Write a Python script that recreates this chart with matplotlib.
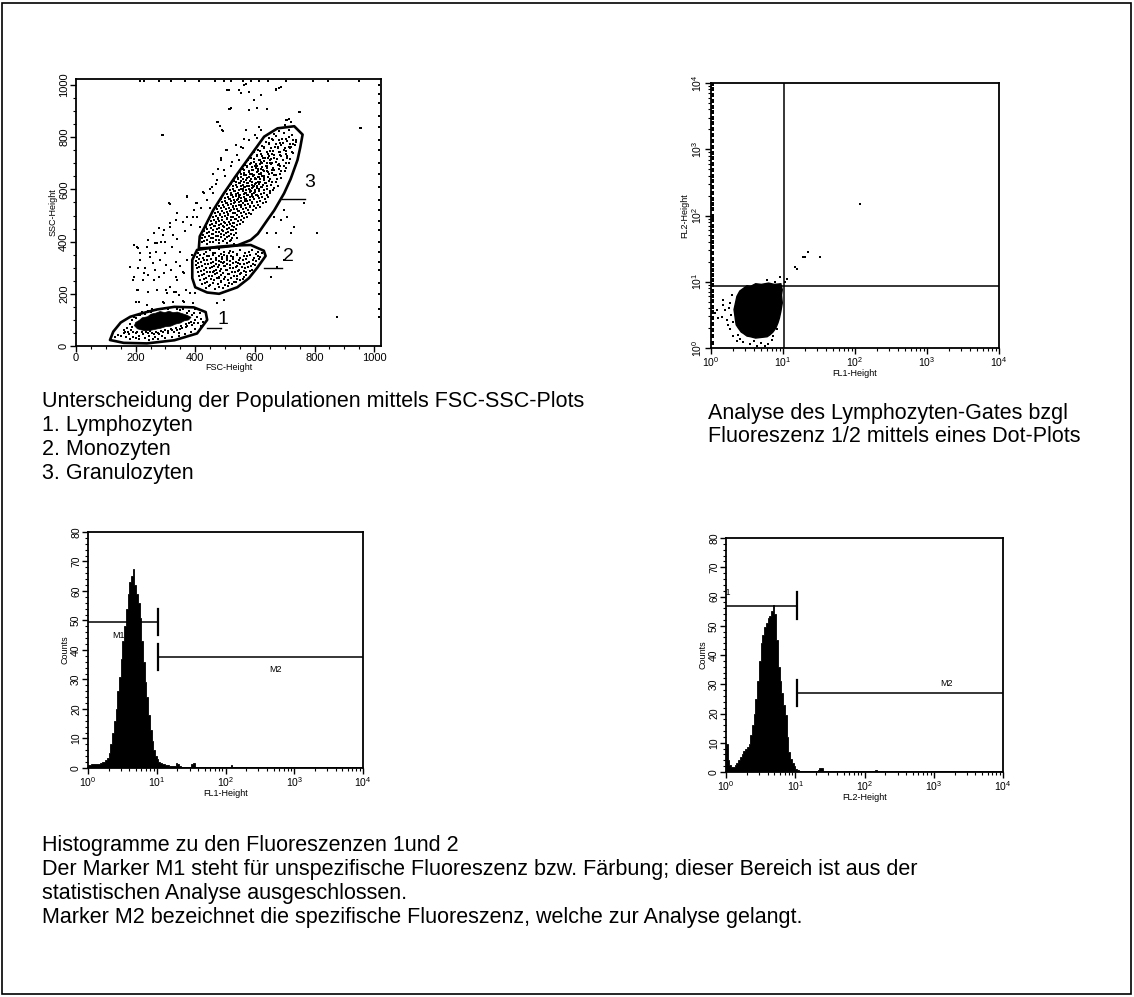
import numpy as np
import matplotlib
matplotlib.use("Agg")
import matplotlib.pyplot as plt
from matplotlib.patches import Polygon, Rectangle
from matplotlib.ticker import FixedLocator, MultipleLocator, LogLocator, NullFormatter

plt.rcParams['font.family'] = ['Liberation Sans', 'DejaVu Sans']
plt.rcParams['mathtext.fontset'] = 'dejavusans'

# ====================== DATA ======================
# --- Panel 1: FSC / SSC dot plot (linear channels 0..1023)
FSC_TICKS = [0, 200, 400, 600, 800, 1000]
SSC_TICKS = [0, 200, 400, 600, 800, 1000]

GATE_LYMPH = [(114, 23), (160, 12), (238, 10), (330, 22), (406, 48), (440, 100), (435, 130),
              (395, 148), (330, 150), (272, 140), (220, 125), (182, 112), (150, 90), (125, 55)]
GATE_MONO = [(406, 368), (390, 330), (390, 260), (400, 225), (440, 205), (480, 200), (541, 225),
             (580, 260), (608, 300), (636, 345), (630, 365), (586, 387), (530, 385), (474, 380)]
GATE_GRAN = [(412, 374), (415, 420), (429, 450), (460, 520), (496, 585), (535, 650), (575, 713),
             (631, 802), (676, 834), (732, 842), (760, 810), (752, 760), (743, 713), (720, 640),
             (698, 585), (665, 520), (642, 483), (610, 430), (586, 406), (540, 385), (480, 378)]
GATE_NAMES = ['1', '2', '3']

LYMPH_CORE = [(196, 78), (200, 90), (212, 98), (222, 108), (240, 112), (252, 122), (268, 126),
              (282, 132), (298, 128), (312, 133), (326, 128), (340, 130), (356, 124), (372, 118),
              (386, 110), (378, 100), (362, 96), (350, 88), (334, 84), (318, 76), (300, 74),
              (284, 68), (266, 64), (250, 60), (232, 58), (218, 62), (206, 66)]

LYMPH_PTS = [(150, 40), (165, 52), (178, 45), (185, 62), (172, 70), (190, 35), (200, 48), (212, 40),
             (225, 45), (240, 48), (255, 50), (270, 55), (285, 58), (300, 62), (318, 66), (335, 70),
             (352, 78), (368, 85), (385, 92), (398, 100), (405, 112), (395, 125), (380, 135), (360, 140),
             (340, 142), (310, 140), (290, 142), (270, 138), (250, 132), (232, 124), (215, 118), (200, 108),
             (188, 98), (180, 85), (160, 60), (245, 40), (280, 45), (310, 50), (330, 55), (350, 65),
             (370, 72), (390, 80), (410, 90), (420, 105), (265, 35), (290, 38), (200, 30), (230, 30),
             (415, 125), (400, 140), (258, 28), (345, 48), (140, 42), (130, 35),
             (175, 55), (190, 52), (205, 55), (220, 52), (235, 55), (248, 58), (262, 46), (276, 50),
             (292, 52), (308, 58), (322, 62), (340, 60), (356, 70), (372, 78), (380, 88), (395, 88),
             (188, 72), (195, 110), (208, 120), (222, 130), (240, 135), (256, 140), (300, 145), (325, 148),
             (350, 138), (372, 128), (388, 120), (160, 48), (168, 36), (182, 28), (212, 25), (245, 22),
             (275, 25), (300, 30), (322, 35), (345, 38), (365, 45), (385, 55), (400, 65), (418, 78), (425, 92)]

MONO_PTS = [(420, 372), (448, 366), (481, 371), (515, 364), (551, 369), (590, 366),
            (410, 357), (431, 352), (459, 358), (487, 353), (512, 356), (540, 351), (566, 357), (603, 352), (625, 356),
            (405, 342), (426, 338), (446, 343), (468, 337), (489, 341), (507, 336), (528, 342), (551, 338), (572, 343), (598, 337), (618, 341),
            (401, 327), (420, 322), (441, 328), (459, 323), (478, 326), (497, 321), (516, 327), (536, 323), (559, 328), (581, 322), (604, 326),
            (403, 312), (424, 307), (443, 313), (462, 308), (481, 311), (499, 306), (518, 312), (541, 308), (563, 313), (586, 307), (601, 311),
            (407, 297), (428, 292), (449, 298), (468, 293), (487, 296), (507, 291), (527, 297), (546, 293), (566, 298), (589, 292),
            (409, 282), (431, 277), (451, 283), (473, 278), (493, 281), (513, 276), (533, 282), (553, 278), (571, 283),
            (412, 267), (436, 262), (457, 268), (478, 263), (499, 266), (521, 261), (541, 267), (562, 263),
            (417, 252), (441, 247), (463, 253), (486, 248), (509, 251), (531, 246), (549, 252),
            (424, 237), (451, 232), (476, 238), (501, 233), (523, 236), (437, 222), (467, 218), (494, 223),
            (470, 330), (492, 318), (515, 300), (530, 270), (545, 318), (505, 345), (460, 285), (480, 262),
            (435, 361), (467, 358), (498, 362), (528, 359), (580, 360), (612, 362),
            (416, 348), (438, 345), (458, 349), (479, 346), (498, 350), (520, 345), (540, 348), (562, 346), (585, 349), (610, 346),
            (412, 333), (431, 330), (452, 334), (470, 331), (489, 335), (508, 330), (527, 334), (548, 331), (570, 335), (593, 331), (613, 333),
            (410, 318), (432, 315), (452, 319), (470, 316), (488, 320), (508, 315), (528, 319), (550, 316), (572, 319), (594, 316),
            (414, 303), (436, 300), (456, 304), (476, 301), (496, 305), (516, 300), (536, 304), (556, 301), (578, 304),
            (419, 288), (441, 285), (462, 289), (483, 286), (503, 290), (523, 285), (543, 289), (563, 286), (583, 288),
            (423, 273), (446, 270), (467, 274), (488, 271), (510, 275), (530, 270), (551, 274), (571, 271),
            (428, 258), (452, 255), (474, 259), (497, 256), (520, 260), (541, 255), (560, 258),
            (434, 243), (460, 240), (488, 244), (514, 241), (537, 244), (445, 228), (480, 226), (509, 229)]

GRAN_PTS = [(688, 834), (714, 826), (700, 845), (664, 812), (698, 818), (726, 808), (680, 822),
            (648, 798), (671, 803), (692, 795), (716, 801), (738, 790),
            (638, 781), (661, 788), (684, 779), (707, 786), (729, 774),
            (623, 768), (646, 773), (669, 764), (689, 771), (713, 762), (734, 769),
            (611, 752), (631, 759), (650, 749), (676, 757), (697, 751), (719, 758),
            (597, 743), (619, 736), (641, 744), (659, 737), (683, 742), (704, 735), (727, 741),
            (588, 722), (607, 729), (627, 720), (647, 727), (664, 721), (689, 728), (709, 719),
            (578, 712), (597, 706), (616, 714), (631, 708), (651, 713), (671, 705), (694, 711), (714, 703),
            (567, 692), (584, 699), (601, 691), (617, 697), (636, 690), (654, 698), (677, 693), (699, 689),
            (559, 678), (575, 684), (589, 676), (605, 683), (619, 677), (639, 682), (656, 675), (681, 680), (700, 672),
            (549, 668), (564, 661), (579, 667), (591, 660), (607, 666), (621, 662), (641, 669), (659, 663), (684, 658),
            (539, 652), (553, 647), (565, 654), (581, 648), (593, 653), (611, 646), (624, 652), (643, 649), (664, 655), (688, 645),
            (529, 632), (545, 638), (555, 631), (571, 637), (583, 633), (599, 639), (611, 630), (629, 636), (647, 632), (671, 629),
            (519, 622), (536, 617), (547, 624), (561, 618), (573, 623), (589, 616), (601, 622), (614, 619), (633, 624), (654, 617), (678, 614),
            (511, 607), (527, 602), (539, 608), (553, 603), (564, 609), (579, 601), (591, 606), (607, 604), (621, 609), (641, 602), (661, 598),
            (504, 592), (519, 587), (531, 594), (544, 588), (559, 593), (569, 586), (585, 591), (597, 587), (613, 594), (629, 588), (651, 585),
            (494, 577), (511, 572), (521, 578), (537, 573), (547, 579), (563, 571), (574, 577), (591, 574), (604, 579), (623, 572), (644, 570),
            (485, 562), (501, 557), (513, 563), (529, 558), (539, 561), (555, 556), (567, 562), (583, 558), (597, 563), (616, 557), (638, 552),
            (477, 547), (493, 542), (504, 548), (519, 543), (531, 546), (547, 541), (559, 548), (576, 543), (589, 547), (609, 540),
            (469, 532), (485, 527), (497, 533), (513, 528), (525, 532), (541, 526), (553, 531), (569, 528), (585, 534), (603, 527),
            (461, 517), (477, 512), (489, 518), (505, 513), (517, 516), (533, 511), (545, 517), (563, 512), (579, 509),
            (454, 502), (471, 497), (483, 503), (499, 498), (511, 501), (527, 496), (539, 502), (557, 497), (574, 493),
            (447, 487), (463, 482), (475, 488), (491, 483), (506, 486), (521, 481), (536, 487), (553, 483),
            (441, 472), (457, 467), (469, 473), (486, 468), (499, 471), (516, 466), (531, 472), (549, 468),
            (437, 457), (453, 452), (465, 458), (481, 453), (497, 456), (513, 451), (529, 457),
            (431, 442), (447, 437), (461, 443), (479, 438), (493, 441), (511, 436), (527, 443),
            (427, 427), (445, 422), (459, 428), (477, 423), (495, 426), (513, 421), (531, 427),
            (424, 412), (441, 407), (461, 413), (479, 408), (499, 411), (521, 406), (541, 412),
            (421, 397), (439, 392), (459, 398), (481, 393), (506, 396), (529, 391),
            (560, 600), (575, 612), (590, 628), (603, 641), (582, 598), (597, 613), (611, 627), (568, 585),
            (620, 660), (632, 672), (548, 570), (566, 555), (600, 590), (614, 602), (628, 615), (586, 640),
            (574, 625), (640, 690), (612, 680), (598, 655), (555, 540), (540, 560), (625, 700), (645, 720),
            (595, 570), (610, 575), (630, 640), (615, 648), (590, 660), (650, 700),
            (430, 403), (450, 400), (470, 405), (492, 401), (516, 404),
            (433, 418), (452, 415), (470, 420), (488, 416), (505, 419), (523, 414),
            (438, 433), (455, 430), (470, 435), (486, 431), (503, 434), (520, 429), (537, 433),
            (441, 448), (459, 445), (474, 449), (489, 444), (506, 447), (521, 443), (537, 449),
            (449, 463), (464, 460), (478, 464), (494, 459), (508, 462), (523, 458), (540, 463),
            (452, 478), (468, 475), (481, 479), (497, 474), (512, 477), (527, 473), (543, 478), (561, 475),
            (459, 493), (477, 489), (490, 494), (505, 490), (519, 493), (533, 488), (548, 494), (565, 489),
            (466, 508), (482, 504), (496, 509), (511, 505), (525, 508), (539, 503), (553, 509), (570, 504), (587, 506),
            (473, 523), (490, 519), (504, 524), (519, 520), (531, 523), (547, 518), (561, 524), (576, 520), (594, 521),
            (481, 538), (498, 534), (510, 539), (525, 535), (538, 538), (553, 533), (566, 539), (582, 535), (598, 538), (618, 533),
            (490, 553), (507, 549), (519, 554), (534, 550), (547, 553), (561, 548), (574, 554), (590, 550), (606, 553), (627, 547),
            (499, 568), (515, 564), (528, 569), (543, 565), (555, 568), (569, 563), (582, 569), (598, 565), (613, 568), (633, 562),
            (508, 583), (524, 579), (537, 584), (551, 580), (563, 583), (577, 578), (591, 584), (606, 580), (620, 583), (640, 578),
            (516, 598), (533, 594), (546, 599), (559, 595), (571, 598), (586, 593), (599, 599), (614, 595), (630, 598), (651, 593),
            (525, 613), (541, 609), (554, 614), (567, 610), (580, 613), (594, 608), (608, 614), (623, 610), (642, 612), (665, 607),
            (535, 628), (551, 624), (562, 629), (577, 625), (590, 628), (605, 623), (618, 629), (637, 625), (658, 627),
            (545, 643), (559, 639), (572, 644), (587, 640), (600, 643), (617, 638), (631, 644), (652, 640), (675, 641),
            (553, 658), (570, 654), (584, 659), (598, 655), (613, 658), (629, 653), (647, 659), (670, 654),
            (565, 673), (580, 669), (595, 674), (610, 670), (627, 673), (645, 668), (664, 674), (688, 669),
            (575, 688), (591, 684), (606, 689), (623, 685), (641, 688), (661, 683), (684, 688), (704, 682),
            (586, 703), (604, 699), (621, 704), (640, 700), (659, 703), (680, 698), (703, 702),
            (596, 718), (615, 714), (634, 719), (653, 715), (673, 718), (695, 713), (717, 716),
            (606, 733), (625, 729), (645, 734), (665, 730), (685, 733), (707, 728),
            (618, 748), (639, 744), (660, 749), (681, 745), (703, 748), (724, 743),
            (632, 763), (655, 759), (678, 764), (700, 760), (722, 762),
            (648, 778), (672, 774), (695, 779), (718, 775), (739, 780),
            (659, 793), (682, 789), (706, 794), (728, 790)]

OUT_PTS = [(507, 981), (519, 911), (552, 968), (563, 1000), (580, 904), (619, 962), (670, 983), (681, 987),
           (749, 898), (709, 866), (720, 859), (474, 859), (490, 828), (288, 808), (951, 834), (877, 112),
           (810, 432), (619, 828), (608, 796), (485, 713), (496, 674), (474, 636), (457, 611), (429, 585),
           (406, 547), (372, 572), (311, 547), (339, 508), (316, 470), (372, 496), (406, 496), (417, 457),
           (260, 432), (294, 444), (272, 393), (238, 381), (204, 381), (215, 330), (249, 355), (283, 330),
           (182, 304), (193, 266), (227, 278), (260, 253), (294, 278), (316, 227), (339, 253), (361, 278),
           (204, 215), (272, 215), (305, 202), (328, 208), (210, 170), (238, 157), (294, 163), (361, 170),
           (344, 195), (384, 202), (496, 176), (474, 163), (653, 266), (675, 304), (698, 330), (681, 381),
           (720, 432), (709, 496), (687, 483), (670, 432), (732, 457), (698, 521), (765, 547), (664, 496),
           (642, 432), (569, 1005), (546, 980), (580, 973), (620, 960), (597, 944), (670, 982), (687, 992),
           (513, 980), (515, 909), (580, 905), (608, 913), (642, 909), (751, 897), (704, 865), (715, 871),
           (614, 839), (569, 826), (563, 794), (535, 769), (552, 762), (524, 705), (546, 711), (507, 750),
           (956, 836), (511, 982), (514, 909), (477, 858), (483, 842), (494, 823), (292, 807), (502, 750),
           (488, 720), (477, 677), (460, 660), (427, 590), (460, 587), (373, 575), (314, 545), (404, 548),
           (449, 530), (196, 387), (208, 374), (241, 406), (264, 393), (286, 400), (292, 425), (326, 425),
           (314, 457), (280, 451), (337, 483), (359, 476), (393, 495), (213, 355), (247, 342), (269, 361),
           (297, 355), (258, 317), (303, 310), (337, 323), (208, 298), (191, 253), (225, 253), (241, 272),
           (280, 266), (337, 266), (359, 285), (208, 215), (241, 208), (303, 215), (337, 208), (370, 215),
           (202, 170), (292, 170), (326, 170), (359, 174), (393, 166), (398, 202),
           (230, 300), (265, 290), (320, 290), (350, 305), (372, 330), (390, 350), (350, 360), (322, 380),
           (300, 400), (340, 410), (365, 440), (385, 465), (395, 520), (420, 530), (440, 560), (450, 600),
           (470, 620), (500, 650), (520, 690), (540, 730), (560, 760), (580, 790), (600, 810)]
EDGE_RIGHT_SSC = [1000, 965, 930, 880, 840, 790, 750, 700, 660, 610, 560, 520, 480, 445, 400, 360,
                  320, 290, 240, 200, 140, 110]
EDGE_TOP_FSC = [213, 229, 280, 320, 364, 414, 465, 498, 519, 559, 586, 613, 643, 704, 795, 845, 949]

# --- Panel 2: FL1 / FL2 dot plot (log10 units)
QUAD_FL1 = 10.4
QUAD_FL2 = 8.7
BLOB_LOG = [(0.40, 0.86), (0.45, 0.90), (0.50, 0.94), (0.55, 0.93), (0.62, 0.97), (0.70, 0.96),
            (0.80, 0.98), (0.88, 0.96), (0.97, 0.97), (0.99, 0.88), (0.98, 0.80), (0.99, 0.68),
            (0.97, 0.55), (0.95, 0.45), (0.93, 0.38), (0.90, 0.30), (0.86, 0.24), (0.82, 0.20),
            (0.78, 0.17), (0.70, 0.16), (0.62, 0.15), (0.55, 0.17), (0.50, 0.18), (0.45, 0.22),
            (0.42, 0.24), (0.38, 0.30), (0.35, 0.35), (0.34, 0.42), (0.33, 0.50), (0.32, 0.58),
            (0.34, 0.68), (0.36, 0.78)]
FL_PTS_LOG = [(0.171, 0.72), (0.079, 0.572), (0.148, 0.472), (0.218, 0.421), (0.264, 0.673),
              (0.194, 0.572), (0.056, 0.522), (0.102, 0.447), (0.171, 0.648), (0.403, 0.135),
              (0.449, 0.085), (0.542, 0.06), (0.634, 0.035), (0.75, 0.035), (0.796, 0.06),
              (0.866, 0.186), (0.912, 0.286), (0.935, 0.487), (1.028, 0.99), (1.05, 1.04),
              (0.958, 1.065), (0.264, 0.286), (0.31, 0.186), (0.356, 0.11), (0.89, 1.0),
              (0.78, 1.03), (2.07, 2.18), (1.282, 1.38), (1.352, 1.455), (1.514, 1.38),
              (1.167, 1.22), (1.19, 1.196), (1.305, 1.37), (0.29, 0.80), (0.25, 0.60), (0.30, 0.40),
              (0.28, 0.50), (0.24, 0.35), (0.38, 0.20), (0.60, 0.10), (0.70, 0.08), (0.85, 0.12)]
FL2_EDGE = [1.2, 1.5, 1.9, 2.3, 2.8, 3.5, 4.1, 5.2, 6.0, 7.3, 8.8, 10.5, 12.7, 15, 18, 22, 27, 33, 40,
            48, 58, 70, 85, 100, 125, 150, 180, 220, 270, 330, 400, 490, 600, 730, 890, 1100, 1350,
            1650, 2000, 2450, 3000, 3650, 4400, 5400, 6500, 8000, 9500]

# --- Panels 3/4: histograms (log10 bin edges, counts)
LOG_EDGES = [i * 0.025 for i in range(91)] + [4.0]
FL1_COUNTS = [1.0, 1.1, 1.2, 1.2, 1.3, 1.4, 1.5, 1.7, 1.9, 2.2,
              2.8, 3.5, 5.0, 8, 12, 16, 20, 26, 31, 37,
              43, 48, 54, 59, 63, 65, 67.6, 62, 59, 56,
              51, 43, 36, 29, 24, 18, 13, 9, 6, 4.2,
              3.0, 2.2, 1.8, 1.5, 1.3, 1.1, 1.0, 0.8, 0.7, 0.6,
              0.8, 1.8, 1.5, 0.6, 0.5, 0.5, 0.5, 0.4, 0.5, 0.4,
              1.5, 1.8, 0.4, 0.3, 0.3, 0.3, 0.4, 0.3, 0.3, 0.3,
              0.3, 0.3, 0.3, 0.3, 0.3, 0.3, 0.3, 0.3, 0.3, 0.3,
              0.3, 0.3, 0.3, 1.0, 0.3, 0.3, 0.3, 0.3, 0.3, 0.3,
              0.3]
FL2_COUNTS = [9.5, 4, 2.5, 1.8, 1.8, 2.4, 3.2, 4.0, 5.0, 6.3,
              7.2, 7.7, 8.5, 9.5, 12.5, 16, 20, 25, 31, 38,
              44, 47, 49.5, 51, 52.5, 53.5, 55, 57, 54, 45,
              36, 31, 27, 23, 19.5, 12, 7, 4.5, 3, 2,
              1.0, 0.6, 0.4, 0.4, 0.4, 0.4, 0.4, 0.4, 0.4, 0.4,
              0.4, 0.4, 0.4, 0.8, 1.4, 1.2, 0.4, 0.3, 0.3, 0.3,
              0.3, 0.3, 0.3, 0.3, 0.3, 0.3, 0.3, 0.3, 0.3, 0.3,
              0.3, 0.3, 0.3, 0.3, 0.3, 0.3, 0.3, 0.3, 0.3, 0.3,
              0.3, 0.3, 0.3, 0.3, 0.3, 0.3, 0.8, 0.3, 0.3, 0.3,
              0.3]
COUNT_TICKS = [0, 10, 20, 30, 40, 50, 60, 70, 80]
# markers: (level, x_start, x_end)
FL1_M1 = (49.5, 1.0, 10.5)
FL1_M2 = (37.6, 10.5, 1e4)
FL2_M1 = (56.9, 1.0, 10.5)
FL2_M2 = (27.0, 10.5, 1e4)

CAPTION_TL = ["Unterscheidung der Populationen mittels FSC-SSC-Plots", "1. Lymphozyten",
              "2. Monozyten", "3. Granulozyten"]
CAPTION_TR = ["Analyse des Lymphozyten-Gates bzgl", "Fluoreszenz 1/2 mittels eines Dot-Plots"]
CAPTION_B = ["Histogramme zu den Fluoreszenzen 1und 2",
             "Der Marker M1 steht für unspezifische Fluoreszenz bzw. Färbung; dieser Bereich ist aus der",
             "statistischen Analyse ausgeschlossen.",
             "Marker M2 bezeichnet die spezifische Fluoreszenz, welche zur Analyse gelangt."]

# ====================== FIGURE ======================
W, H = 1134, 997
fig = plt.figure(figsize=(W / 100, H / 100), dpi=100, facecolor='white')


def ax_px(l, t, r, b):
    return fig.add_axes([l / W, 1 - b / H, (r - l) / W, (b - t) / H])


LAB_FS = 6.5


def style(ax, tick_fs):
    for s in ax.spines.values():
        s.set_linewidth(1.3)
    ax.tick_params(which='major', direction='out', length=4, width=1, labelsize=tick_fs, pad=1)
    ax.tick_params(which='minor', direction='out', length=2.2, width=0.8)
    ax.tick_params(axis='y', labelrotation=90)
    for lbl in ax.get_yticklabels():
        lbl.set_va('center')


def log_axis(axis):
    axis.set_major_locator(LogLocator(base=10, numticks=10))
    axis.set_minor_locator(LogLocator(base=10, subs=range(2, 10), numticks=10))
    axis.set_minor_formatter(NullFormatter())


def dots(ax, pts, ms=1.9, **kw):
    a = np.array(pts, dtype=float)
    ax.plot(a[:, 0], a[:, 1], ls='none', marker='s', ms=ms, mew=0, color='black', **kw)


# ---------- Panel 1 ----------
ax1 = ax_px(76, 79, 381, 346)
ax1.set_xlim(0, 1023)
ax1.set_ylim(0, 1023)
ax1.xaxis.set_major_locator(FixedLocator(FSC_TICKS))
ax1.yaxis.set_major_locator(FixedLocator(SSC_TICKS))
ax1.xaxis.set_minor_locator(MultipleLocator(50))
ax1.yaxis.set_minor_locator(MultipleLocator(50))
style(ax1, 8)
ax1.set_xlabel('FSC-Height', fontsize=LAB_FS, labelpad=0)
ax1.set_ylabel('SSC-Height', fontsize=LAB_FS, labelpad=1)

dots(ax1, OUT_PTS)
dots(ax1, MONO_PTS)
dots(ax1, GRAN_PTS)
dots(ax1, LYMPH_PTS)
dots(ax1, [(1015, v) for v in EDGE_RIGHT_SSC], clip_on=False)
dots(ax1, [(v, 1016) for v in EDGE_TOP_FSC], clip_on=False)
ax1.add_patch(Polygon(LYMPH_CORE, closed=True, fc='black', ec='black', lw=0.5))
for g in (GATE_LYMPH, GATE_MONO, GATE_GRAN):
    ax1.add_patch(Polygon(g, closed=True, fill=False, ec='black', lw=1.9, joinstyle='round'))
# leader lines + gate numbers
ax1.plot([440, 487], [68, 68], color='black', lw=1.0)
ax1.plot([631, 692], [298, 298], color='black', lw=1.0)
ax1.plot([692, 768], [562, 562], color='black', lw=1.0)
ax1.text(494, 100, GATE_NAMES[0], fontsize=14, ha='center', va='center')
ax1.text(711, 342, GATE_NAMES[1], fontsize=14, ha='center', va='center')
ax1.text(785, 626, GATE_NAMES[2], fontsize=14, ha='center', va='center')

# ---------- Panel 2 ----------
ax2 = ax_px(711, 83, 999, 348)
ax2.set_xscale('log')
ax2.set_yscale('log')
ax2.set_xlim(1, 1e4)
ax2.set_ylim(1, 1e4)
log_axis(ax2.xaxis)
log_axis(ax2.yaxis)
style(ax2, 7.5)
ax2.set_xlabel('FL1-Height', fontsize=LAB_FS, labelpad=0)
ax2.set_ylabel('FL2-Height', fontsize=LAB_FS, labelpad=1)
blob = np.array(BLOB_LOG)
ax2.add_patch(Polygon(np.column_stack([10 ** blob[:, 0], 10 ** blob[:, 1]]), closed=True,
                      fc='black', ec='black', lw=1))
fp = np.array(FL_PTS_LOG)
dots(ax2, np.column_stack([10 ** fp[:, 0], 10 ** fp[:, 1]]))
dots(ax2, [(1.03, v) for v in FL2_EDGE], ms=2.2)
ax2.axvline(QUAD_FL1, color='black', lw=1.1)
ax2.axhline(QUAD_FL2, color='black', lw=1.1)


# ---------- Panels 3 & 4 ----------
def histo(ax, counts, m1, m2, xlabel, m1_txt, m2_txt):
    ax.set_xscale('log')
    ax.set_xlim(1, 1e4)
    ax.set_ylim(0, 80)
    log_axis(ax.xaxis)
    ax.yaxis.set_major_locator(FixedLocator(COUNT_TICKS))
    ax.yaxis.set_minor_locator(MultipleLocator(2))
    style(ax, 7.5)
    ax.set_xlabel(xlabel, fontsize=LAB_FS, labelpad=0)
    ax.set_ylabel('Counts', fontsize=LAB_FS, labelpad=1)
    ax.text(*m1_txt, 'M1', fontsize=6.5, ha='center', va='center', zorder=1, clip_on=True)
    ax.stairs(counts, 10 ** np.array(LOG_EDGES), fill=True, facecolor='black', edgecolor='black',
              lw=0.6, zorder=2)
    for (lev, x0, x1), end in ((m1, 'right'), (m2, 'left')):
        ax.plot([x0, x1], [lev, lev], color='black', lw=1.1, zorder=3)
        xt = x1 if end == 'right' else x0
        ax.plot([xt, xt], [lev - 4.5, lev + 4.5], color='black', lw=1.6, zorder=3)
    ax.text(*m2_txt, 'M2', fontsize=6.5, ha='center', va='center', zorder=3)


ax3 = ax_px(88, 532, 363, 768)
histo(ax3, FL1_COUNTS, FL1_M1, FL1_M2, 'FL1-Height', (10 ** 0.44, 45), (10 ** 2.72, 33.4))
ax4 = ax_px(726, 538, 1003, 772)
histo(ax4, FL2_COUNTS, FL2_M1, FL2_M2, 'FL2-Height', (10 ** -0.02, 61.5), (10 ** 3.19, 30.4))

# ---------- Captions ----------
CAP_FS = 15.5
for i, line in enumerate(CAPTION_TL):
    fig.text(42 / W, 1 - (401 + 24 * i) / H, line, fontsize=CAP_FS, va='center', ha='left')
for i, line in enumerate(CAPTION_TR):
    fig.text(708 / W, 1 - (413 + 24 * i) / H, line, fontsize=CAP_FS, va='center', ha='left')
for i, line in enumerate(CAPTION_B):
    fig.text(42 / W, 1 - (846 + 24 * i) / H, line, fontsize=CAP_FS, va='center', ha='left')

# outer frame
fig.add_artist(Rectangle((2 / W, 3 / H), 1129 / W, 991 / H, transform=fig.transFigure,
                         fill=False, ec='black', lw=1.2))

fig.savefig('out.png', dpi=100, facecolor='white')
